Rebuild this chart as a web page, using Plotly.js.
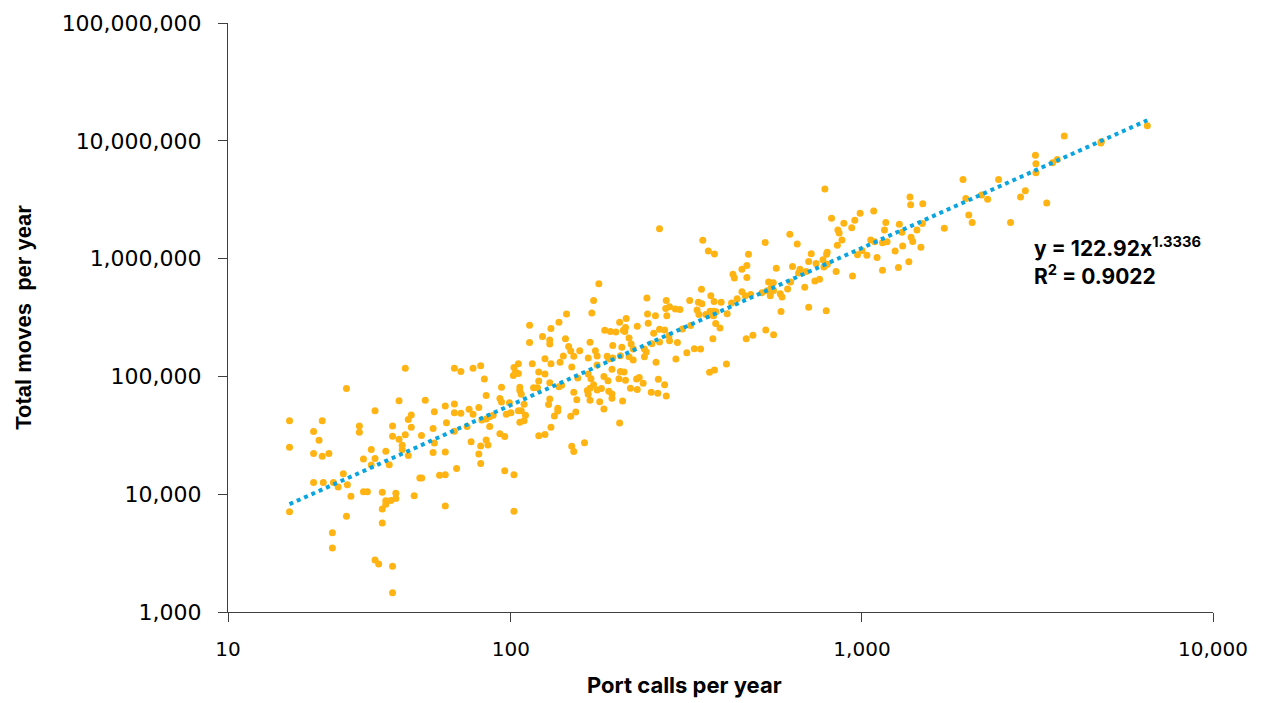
<!DOCTYPE html>
<html>
<head>
<meta charset="utf-8">
<script src="https://cdn.plot.ly/plotly-3.0.1.min.js"></script>
<style>html,body{margin:0;padding:0;background:#fff;}#chart{width:1262px;height:703px;}</style>
</head>
<body>
<div id="chart"></div>
<script>
// Port calls per year (x) and total moves per year (y)
const portCalls = [
50,34,48,23.4,29,41,27.4,37,37,46,52,51,52,28.4,23.4,46,48,50,49,49,51,27.4,29,30.3,40,44,38,41,40,45,33.3,27.4,29.2,31.2,32.2,34.2,35,38,39,43,47,47,44,45.5,44,43,53,23.4,34,43,31,31,41,42,46,46,
113,130,123,129,129,113,125,130,115,105,102,103,105,101.6,120,125,82,78,69,72,84,120,129,94,106,116,119,106,107,85,93,94,99,129,128,57,65,69,81,109,76,69,72,78,60.5,105,107,97,100,110,106,109,133,82.6,85,87,89,65.5,60,75,69,87,130,55.6,93,96,120,125,77,85,60.5,82,86,60,65,81,82,70,96,102,62.6,65,55,55.7,65,102,
265,178,172,170,144,137,244,277,323,276,283,294,303,278,245,258,246,213,204,212,229,185,192,199,209,211,217,265,274,255,282,283,308,339,325,252,265,298,333,240,240,243,220,223,207,195,168,143,146,148,157,174,176,151,141,166,188,190,195,205,217,223,138,149,176,194,205,210,259,295,317,166,169,155,184,189,203,212,228,232,238,263,274,137,139.5,172,168,165,176,181,190,194,194,166,151,219,229,251,262,277,208,179,168,154,136,136,153,148,184,204,149,151,162,
784,819,888,854,861,877,851,796,793,623,654,530,352,365,380,475,717,705,740,774,785,779,797,634,570,470,455,666,660,693,844,429,433,470,626,734,757,687,542,559,551,560,537,519,548,585,592,614,455,465,482,441,425,413,397,349,371,379,342,350,343,359,369,378,384,378,366,383,394,376,347,588,705,791,489,468,532,560,411,380,368,
1940,1370,1376,1490,1976,2190,2280,2015,2060,1716,988,1080,954,935,1169,1278,1159,1486,1434,1300,1380,1395,1472,1306,1243,1059,1087,1144,1179,1001,971,1033,1104,1360,1270,1144,940,
6500,3770,4810,4790,3120,3130,3130,3490,3600,2450,2920,2830,3360,2650
];
const totalMoves = [
117000,79000,62000,42000,42000,51000,34000,38000,33500,38000,47000,43000,37000,28700,25000,31000,29300,32000,26000,23800,21300,22200,21000,22200,24000,23200,19900,20100,17700,17800,14900,12600,12600,12600,11500,12000,9600,10500,10500,10400,10200,9200,8800,8850,8200,7500,9700,7100,6500,5700,4700,3500,2770,2550,2450,1460,
272000,255000,218000,204000,188000,194000,141000,128000,128000,128000,119000,109000,106000,102000,109000,105000,123000,117000,117000,110000,95000,91500,88500,81000,81000,80000,80000,76000,70600,68700,65000,60700,59800,64300,57600,62700,56000,58400,54400,58000,52600,49200,48700,47800,50000,51000,51000,47800,49200,46800,40800,42000,46200,42700,43500,45400,46800,40500,36100,37500,34200,37500,37000,31500,32600,30900,31300,32100,27900,28900,27200,25700,26200,22600,22800,21900,18200,16500,15800,14600,14500,14600,13700,13700,7950,7170,
1790000,611000,441000,346000,338000,288000,462000,441000,441000,377000,390000,374000,370000,327000,338000,327000,283000,310000,288000,260000,266000,247000,240000,238000,246000,240000,212000,251000,248000,233000,221000,201000,253000,367000,270000,189000,196000,194000,172000,171000,147000,161500,188000,171000,177000,183000,195000,209000,179000,164000,165000,165000,149000,148500,149000,143500,148500,140700,143500,149700,146500,138000,132000,120000,125000,115000,110000,109000,132000,140700,159000,105000,95600,97000,99600,92000,95700,92800,95000,98000,87500,94600,85000,81800,84000,85000,79400,75800,76800,78800,74800,71000,65300,70600,73400,79400,77300,73400,71900,68300,61900,61000,62700,63500,53700,50900,49900,45900,52900,40300,25500,23000,27300,
3900000,2200000,2000000,1750000,1650000,1440000,1300000,1130000,1090000,1610000,1330000,1370000,1430000,1160000,1095000,1090000,1100000,944000,908000,976000,873000,847000,897000,856000,830000,873000,814000,814000,754000,777000,777000,738000,683000,692000,634000,646000,668000,572000,634000,625000,562000,536000,533000,514000,483000,502000,473000,553000,522000,483000,495000,456000,419000,340000,427000,550000,483000,432000,427000,413000,335000,335000,358000,358000,353000,327000,331000,281000,257000,209000,171000,355000,387000,360000,224000,209000,248000,226000,127500,113500,108500,
4690000,3330000,2870000,2920000,3240000,3460000,3190000,2350000,2030000,1810000,2430000,2540000,2120000,1830000,2030000,1960000,1750000,1990000,1750000,1670000,1520000,1400000,1250000,1280000,1160000,1440000,1390000,1360000,1390000,1170000,1080000,1070000,1020000,938000,840000,798000,710000,
13400000,11000000,9860000,9600000,7550000,6370000,5350000,6500000,6930000,4690000,3760000,3330000,2970000,2030000
];

// Power trendline as stated on the chart: y = 122.92 x^1.3336, R² = 0.9022
const trendCoef = 122.92;
const trendExp = 1.3336;
const trendR2 = 0.9022;

const xTickVals = [15.63, 100, 1000, 10000];
const xTickText = ['10', '100', '1,000', '10,000'];
const yTickVals = [1e3, 1e4, 1e5, 1e6, 1e7, 1e8];

const xMin = Math.min(...portCalls), xMax = Math.max(...portCalls);
const trendX = [xMin, xMax];
const trendY = trendX.map(v => trendCoef * Math.pow(v, trendExp));

const axisColor = '#3f3f3f';

const data = [
  {
    type: 'scatter', mode: 'markers', x: portCalls, y: totalMoves,
    marker: {color: '#FFB414', size: 7, line: {width: 0}},
    hoverinfo: 'x+y', showlegend: false
  },
  {
    type: 'scatter', mode: 'lines', x: trendX, y: trendY,
    line: {color: '#0AA5E0', width: 4, dash: '4px,4px'},
    hoverinfo: 'skip', showlegend: false
  }
];

const layout = {
  width: 1262, height: 703,
  margin: {l: 228, r: 49, t: 23, b: 91, pad: 0},
  paper_bgcolor: '#ffffff', plot_bgcolor: '#ffffff',
  showlegend: false,
  xaxis: {
    type: 'log', range: [Math.log10(15.63), 4],
    tickvals: xTickVals, ticktext: xTickText,
    ticks: 'outside', ticklen: 9, tickwidth: 1, tickcolor: axisColor,
    ticklabelstandoff: 10,
    showline: true, linecolor: axisColor, linewidth: 1,
    showgrid: false, zeroline: false,
    tickfont: {family: 'DejaVu Sans, Verdana, sans-serif', size: 20, color: '#000'},
    automargin: false
  },
  yaxis: {
    type: 'log', range: [3, 8],
    tickvals: yTickVals, tickformat: ',',
    ticks: 'outside', ticklen: 9, tickwidth: 1, tickcolor: axisColor,
    ticklabelstandoff: 12,
    showline: true, linecolor: axisColor, linewidth: 1,
    showgrid: false, zeroline: false,
    tickfont: {family: 'DejaVu Sans, Verdana, sans-serif', size: 22, color: '#000'},
    automargin: false,
    title: {
      text: '<b>Total moves\u00a0 per year</b>',
      font: {family: 'Liberation Sans, Arial, sans-serif', size: 22, color: '#000'},
      standoff: 23
    }
  },
  annotations: [
    {
      text: '<b>Port calls per year</b>',
      xref: 'paper', yref: 'paper', x: (684 - 228) / 985, y: (612 - 685) / 589,
      xanchor: 'center', yanchor: 'middle', showarrow: false,
      font: {family: 'Inter, Liberation Sans, Arial, sans-serif', size: 22, color: '#000'}
    },
    {
      text: '<b>y = ' + trendCoef.toFixed(2) + 'x<sup>' + trendExp.toFixed(4) + '</sup></b>',
      xref: 'paper', yref: 'paper', x: (1032 - 228) / 985, y: (612 - 247) / 589,
      xanchor: 'left', yanchor: 'middle', showarrow: false,
      font: {family: 'Inter, Liberation Sans, Arial, sans-serif', size: 21, color: '#000'}
    },
    {
      text: '<b>R<sup>2</sup> = ' + trendR2.toFixed(4) + '</b>',
      xref: 'paper', yref: 'paper', x: (1032 - 228) / 985, y: (612 - 275) / 589,
      xanchor: 'left', yanchor: 'middle', showarrow: false,
      font: {family: 'Inter, Liberation Sans, Arial, sans-serif', size: 21, color: '#000'}
    }
  ]
};

Plotly.newPlot('chart', data, layout, {displayModeBar: false, staticPlot: true});
</script>
</body>
</html>
